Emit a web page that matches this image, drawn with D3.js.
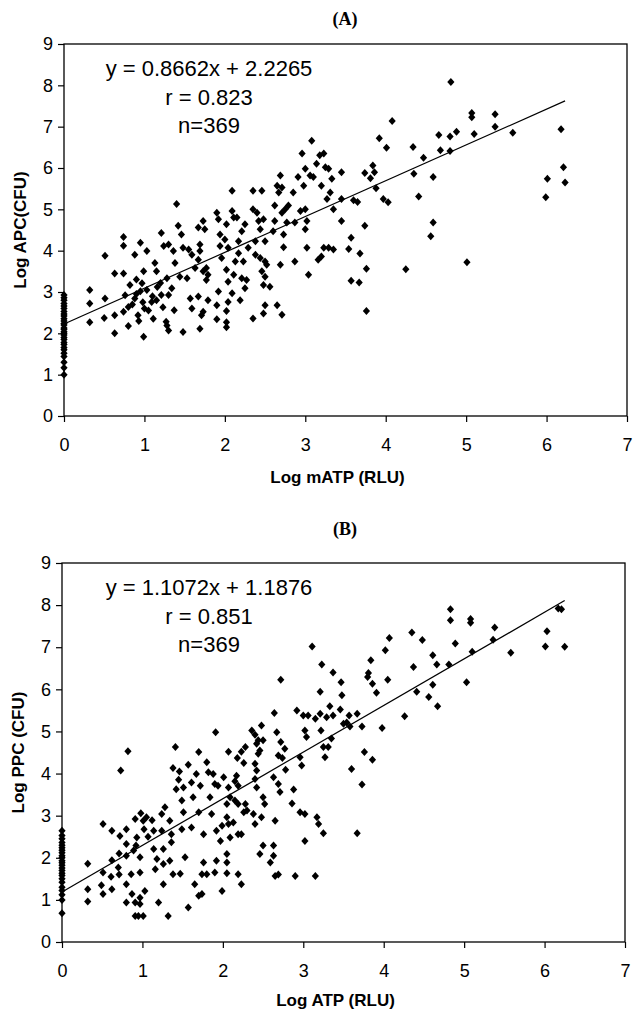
<!DOCTYPE html>
<html>
<head>
<meta charset="utf-8">
<script src="https://cdn.jsdelivr.net/npm/d3@7"></script>
<style>
    body { margin: 0; background: #fff; }
    .tick text { font-family: "Liberation Sans", Arial, sans-serif; font-size: 18px; fill: #000; }
    .tick line { stroke: #000; stroke-width: 1.2px; }
    .frame { fill: none; stroke: #000; stroke-width: 1.3px; }
    .fit { stroke: #000; stroke-width: 1.2px; }
    .pt { fill: #000; }
    .eq { font-family: "Liberation Sans", Arial, sans-serif; font-size: 22px; text-anchor: middle; }
    .axis-title { font-family: "Liberation Sans", Arial, sans-serif; font-size: 17px; font-weight: bold; text-anchor: middle; }
    .panel-title { font-family: "Liberation Serif", "Times New Roman", serif; font-size: 18px; font-weight: bold; text-anchor: middle; }
</style>
</head>
<body>
<svg id="chart" width="633" height="1013"></svg>
<script>
// shared ticks
const xTicks = [0, 1, 2, 3, 4, 5, 6, 7];
const yTicks = [0, 1, 2, 3, 4, 5, 6, 7, 8, 9];

// (A) Log mATP vs Log APC
const apcAtZero = [1.0, 1.17, 1.3, 1.44, 1.52, 1.6, 1.66, 1.73, 1.78, 1.85, 1.9, 1.96, 2.0, 2.04, 2.1,
    2.13, 2.2, 2.24, 2.3, 2.35, 2.42, 2.47, 2.53, 2.6, 2.66, 2.72, 2.8, 2.86, 2.93];
const apcPoints = [
    [0.32,3.05],[0.32,2.72],[0.32,2.27],[0.51,3.88],[0.51,2.84],[0.50,2.37],[0.63,3.45],[0.74,3.45],
    [0.63,2.44],[0.63,2.0],[0.74,4.33],[0.74,4.12],[0.74,2.52],[0.80,2.18],[0.82,3.17],[0.80,2.64],
    [0.88,3.90],[0.88,2.84],[0.95,4.19],[0.92,2.44],[0.99,1.92],[0.99,3.50],[0.97,3.21],[1.03,3.99],
    [1.03,3.05],[1.09,2.76],[1.13,3.70],[1.11,2.35],[1.21,4.43],[1.21,2.93],[1.15,3.50],[1.24,4.11],
    [1.28,3.33],[1.30,4.15],[1.30,2.93],[1.28,2.19],[1.30,2.07],[1.36,3.99],[1.34,3.09],[1.38,3.70],
    [1.40,5.13],[1.42,4.60],[1.46,4.39],[1.48,4.07],[1.48,2.03],[1.44,3.37],[1.53,3.33],[1.55,4.03],
    [1.57,2.84],[1.59,3.90],[1.59,2.60],[1.67,4.56],[1.67,3.78],[1.69,4.15],[1.67,2.89],[1.69,2.11],
    [1.73,4.72],[1.73,3.50],[1.71,2.44],
    [0.85,2.7],[0.9,2.95],[0.95,3.02],[1.0,2.6],[1.05,2.55],[1.1,2.9],[1.16,3.12],[0.76,2.92],
    [0.9,3.3],[1.2,3.22],[1.15,2.8],[0.98,2.75],
    [1.37,2.56],[1.73,2.52],[1.27,2.28],[0.93,2.3],[1.23,2.63],
    [1.75,4.52],[1.69,3.99],[1.63,3.58],[1.77,3.58],[1.79,3.42],[1.77,3.29],[1.79,2.80],[1.90,4.92],
    [1.92,4.76],[1.94,4.39],[1.94,4.11],[1.96,3.82],[1.92,3.01],[1.90,2.68],[1.90,2.34],[2.00,4.27],
    [2.02,4.64],[2.04,4.07],[2.02,3.54],[2.04,3.25],[2.04,2.76],[2.02,2.54],[2.02,2.27],[2.02,2.15],
    [2.09,5.45],[2.09,4.96],[2.11,4.80],[2.11,3.42],[2.09,2.97],[2.15,4.80],[2.17,4.23],[2.17,3.94],
    [2.13,3.74],[2.21,4.47],[2.23,3.74],[2.21,3.33],[2.25,3.09],[2.25,4.64],[2.27,3.29],[2.19,2.80],
    [2.29,4.07],[2.35,5.45],[2.35,5.00],[2.40,4.92],[2.38,4.23],[2.38,3.90],[2.42,4.72],[2.44,4.52],
    [2.46,5.45],[2.44,3.82],[2.46,3.50],[2.48,4.76],[2.50,4.23],[2.48,3.17],[2.50,3.74],[2.50,3.37],
    [2.52,3.66],[2.56,3.13],[2.50,2.68],[2.48,2.48],[2.35,2.36],[2.60,4.47],[2.62,4.72],[2.62,5.09],
    [2.65,5.57],[2.67,5.41],[2.69,5.82],[2.71,4.92],[2.71,5.53],[2.73,4.39],[2.75,5.00],[2.73,4.08],
    [2.69,3.66],[2.65,2.68],[2.71,2.45],[2.77,4.68],[2.79,5.09],[2.85,5.41],[2.87,3.74],[2.91,5.78],
    [2.94,4.96],[2.98,5.57],[3.00,5.98],[3.00,5.00],[3.00,4.52],[3.02,4.07],[3.04,3.42],[3.02,4.72],
    [3.06,5.82],[3.08,6.66],[2.96,6.35],[3.14,6.10],[3.18,6.31],[3.23,6.35],[3.25,6.02],[3.29,5.98],
    [3.20,5.57],[3.23,4.07],[3.20,3.86],[3.16,3.78],[3.29,4.07],[3.35,4.03],[3.33,5.74],[3.31,5.41],
    [3.27,5.25],[3.35,5.00],[3.45,5.90],[3.45,5.25],[3.45,4.72],[3.10,5.78],[2.87,4.68],
    [4.81,8.08],[5.07,7.33],[5.07,7.23],[5.36,7.30],[5.36,7.00],[4.66,6.80],[4.80,6.76],[4.88,6.88],
    [5.10,6.82],[5.58,6.85],[4.68,6.43],[4.80,6.41],[4.47,6.25],[4.34,6.51],[4.35,5.86],[4.59,5.78],
    [4.41,5.31],[4.59,4.68],[4.56,4.35],[5.01,3.72],[4.25,3.55],[4.08,7.14],[3.92,6.72],[4.01,6.49],
    [3.84,6.06],[3.86,5.90],[3.74,5.88],[3.81,5.75],[3.88,5.51],[3.97,5.25],[4.03,5.17],[3.74,4.60],
    [3.76,3.56],[3.68,3.93],[3.76,2.54],[3.67,3.23],[3.57,3.27],[3.54,4.04],[3.57,4.31],[3.60,5.22],
    [3.65,5.18],[6.18,6.94],[6.21,6.02],[6.01,5.74],[6.23,5.65],[5.99,5.29]
];
const apcFit = { slope: 0.8662, intercept: 2.2265 };
const apcLabels = ["y = 0.8662x + 2.2265", "r = 0.823", "n=369"];

// (B) Log ATP vs Log PPC
const ppcAtZero = [0.68, 1.0, 1.12, 1.22, 1.3, 1.42, 1.5, 1.58, 1.63, 1.7, 1.76, 1.82, 1.88, 1.93, 2.0,
    2.05, 2.12, 2.18, 2.24, 2.3, 2.36, 2.45, 2.53, 2.64];
const ppcPoints = [
    [0.32,1.86],[0.32,1.25],[0.32,0.96],[0.51,1.65],[0.51,2.80],[0.49,1.35],[0.51,1.14],[0.62,2.64],
    [0.62,1.94],[0.61,1.55],[0.62,1.25],[0.72,2.52],[0.71,2.10],[0.70,1.77],[0.71,1.60],[0.73,4.07],
    [0.82,4.53],[0.80,2.68],[0.80,2.33],[0.80,2.05],[0.80,1.37],[0.80,0.94],[0.87,1.14],[0.86,1.61],
    [0.89,2.17],[0.91,2.92],[0.93,2.48],[0.92,2.29],[0.91,0.94],[0.91,0.62],[0.95,0.62],[1.01,0.62],
    [0.97,1.05],[0.97,0.90],[0.97,1.65],[0.97,2.01],[0.98,3.06],[1.01,2.88],[1.02,2.68],[1.05,2.96],
    [1.07,2.50],[1.03,1.21],[1.12,2.89],[1.14,2.64],[1.14,2.21],[1.16,1.73],[1.18,1.97],[1.20,0.94],
    [1.24,3.04],[1.24,2.64],[1.26,2.21],[1.26,1.85],[1.26,1.37],[1.28,3.20],[1.34,2.88],[1.36,2.37],
    [1.36,2.56],[1.34,1.93],[1.38,1.61],[1.41,4.63],[1.38,4.13],[1.42,3.63],[1.45,3.85],[1.46,4.05],
    [1.51,3.67],[1.49,3.36],[1.51,3.08],[1.49,2.68],[1.47,1.62],[1.53,2.01],[1.57,4.21],[1.57,0.82],
    [1.61,3.79],[1.61,2.72],[1.63,3.44],[1.65,1.37],[1.67,3.99],[1.70,4.51],[1.70,3.08],[1.70,1.10],
    [1.72,3.71],[1.74,1.61],[1.76,2.56],[1.76,1.89],[1.32,0.62],[1.74,1.14],
    [3.11,7.02],[3.23,6.59],[3.37,6.40],[3.47,6.17],[3.48,5.86],[3.21,5.94],[2.72,6.23],[2.64,5.44],
    [1.91,4.98],[1.80,4.27],[2.07,4.52],[2.18,4.37],[2.23,4.52],[2.28,4.63],[2.26,4.25],[2.36,5.02],
    [2.40,4.92],[2.42,4.71],[2.44,4.79],[2.48,5.14],[2.50,4.79],[2.46,4.55],[2.44,4.47],[2.40,4.23],
    [2.42,4.07],[2.67,4.98],[2.72,4.75],[2.77,4.59],[2.69,4.43],[2.74,4.37],[2.63,3.91],[2.78,4.09],
    [2.69,3.75],[2.71,3.56],[2.88,3.62],[2.86,3.29],[2.96,3.08],[3.02,3.04],[3.17,2.96],[3.19,2.80],
    [3.25,2.58],[3.02,2.40],[2.92,5.50],[3.00,5.38],[3.06,5.38],[3.15,5.30],[3.21,5.42],[3.29,5.34],
    [3.33,5.60],[3.37,5.38],[3.46,5.52],[3.50,5.18],[3.02,5.02],[3.04,4.87],[3.22,5.02],[2.96,4.39],
    [2.98,4.19],[3.25,4.63],[3.31,4.63],[3.27,4.39],[3.35,4.83],[1.88,3.99],[2.01,3.91],[2.07,3.67],
    [2.17,3.95],[2.19,3.71],[1.90,3.75],[1.84,3.44],[1.94,3.71],[2.09,3.44],[2.15,3.36],[2.19,3.28],
    [2.28,3.28],[2.30,3.12],[2.26,3.08],[2.05,3.28],[2.05,2.96],[1.99,2.76],[2.07,2.80],[2.13,2.84],
    [2.19,2.56],[2.23,2.56],[1.97,2.40],[2.09,2.48],[2.40,3.87],[2.42,3.67],[2.50,3.44],[2.52,3.28],
    [2.38,3.04],[2.40,2.80],[2.48,2.96],[2.65,2.88],[1.86,3.04],[1.92,2.64],[2.46,2.09],[2.50,2.29],
    [2.63,2.29],[2.63,2.05],[2.59,1.89],[2.65,1.57],[2.69,1.60],[2.90,1.57],[3.15,1.57],[2.05,2.09],
    [2.05,1.89],[1.92,1.93],[1.80,1.61],[1.90,1.65],[2.05,1.63],[2.19,1.61],[2.23,1.37],[1.99,1.21],
    [1.82,4.03],[2.15,3.82],
    [4.83,7.90],[4.83,7.64],[5.08,7.67],[5.08,7.58],[5.38,7.47],[5.36,7.18],[4.89,7.09],[5.10,6.89],
    [5.58,6.87],[5.03,6.17],[4.61,6.81],[4.66,6.59],[4.81,6.59],[4.37,6.53],[4.35,7.35],[4.48,7.17],
    [4.07,7.22],[4.02,6.93],[4.05,6.23],[3.84,6.69],[3.81,6.39],[3.86,6.13],[3.91,5.92],[3.80,6.29],
    [4.41,5.94],[4.56,5.82],[4.67,5.60],[4.61,6.11],[4.26,5.36],[3.98,5.08],[3.73,5.12],[3.67,5.42],
    [3.57,5.38],[3.54,5.21],[3.58,5.12],[3.76,4.51],[3.86,4.33],[3.60,4.11],[3.73,3.74],[3.67,2.58],
    [6.17,7.92],[6.21,7.90],[6.03,7.38],[6.01,7.02],[6.25,7.01]
];
const ppcFit = { slope: 1.1072, intercept: 1.1876 };
const ppcLabels = ["y = 1.1072x + 1.1876", "r = 0.851", "n=369"];

const svg = d3.select("#chart");
svg.append("rect").attr("width", 633).attr("height", 1013).attr("fill", "#fff");

const diamond = "M0,-4L3.6,0L0,4L-3.6,0Z";

function drawPanel(cfg, zeroYs, points, fit, labels) {
    const x = d3.scaleLinear().domain([0, 7]).range([cfg.left, cfg.right]);
    const y = d3.scaleLinear().domain([0, 9]).range([cfg.bottom, cfg.top]);
    const g = svg.append("g");

    g.append("text").attr("class", "panel-title")
        .attr("x", 345).attr("y", cfg.titleY).text(cfg.title);

    const xAxis = g.append("g")
        .attr("transform", `translate(0,${cfg.bottom})`)
        .call(d3.axisBottom(x).tickValues(xTicks).tickFormat(d3.format("d")).tickSize(6).tickPadding(16));
    xAxis.select(".domain").remove();

    const yAxis = g.append("g")
        .attr("transform", `translate(${cfg.left},0)`)
        .call(d3.axisLeft(y).tickValues(yTicks).tickFormat(d3.format("d")).tickSize(6).tickPadding(5));
    yAxis.select(".domain").remove();

    g.append("rect").attr("class", "frame")
        .attr("x", cfg.left).attr("y", cfg.top)
        .attr("width", cfg.right - cfg.left).attr("height", cfg.bottom - cfg.top);

    const all = zeroYs.map(v => [0, v]).concat(points);

    g.append("g").selectAll("path")
        .data(all)
        .join("path")
        .attr("class", "pt")
        .attr("d", diamond)
        .attr("transform", d => `translate(${x(d[0])},${y(d[1])})`);

    const xMax = d3.max(all, d => d[0]);
    g.append("line").attr("class", "fit")
        .attr("x1", x(0)).attr("y1", y(fit.intercept))
        .attr("x2", x(xMax)).attr("y2", y(fit.slope * xMax + fit.intercept));

    g.append("g").selectAll("text")
        .data(labels)
        .join("text")
        .attr("class", "eq")
        .attr("x", 209)
        .attr("y", (d, i) => cfg.top + 32 + i * 28.5)
        .text(d => d);

    g.append("text").attr("class", "axis-title")
        .attr("x", (cfg.left + cfg.right) / 2 - 8)
        .attr("y", cfg.xTitleY)
        .text(cfg.xTitle);

    g.append("text").attr("class", "axis-title")
        .attr("transform", `translate(${cfg.yTitleX},${(cfg.top + cfg.bottom) / 2}) rotate(-90)`)
        .attr("dy", "0.35em")
        .text(cfg.yTitle);
}

drawPanel({ title: "(A)", titleY: 25, left: 64, right: 627, top: 44, bottom: 416,
    xTitle: "Log mATP (RLU)", xTitleY: 483, yTitle: "Log APC(CFU)", yTitleX: 20 },
    apcAtZero, apcPoints, apcFit, apcLabels);

drawPanel({ title: "(B)", titleY: 535, left: 62, right: 625, top: 563, bottom: 942,
    xTitle: "Log ATP (RLU)", xTitleY: 1006, yTitle: "Log PPC (CFU)", yTitleX: 18 },
    ppcAtZero, ppcPoints, ppcFit, ppcLabels);
</script>
</body>
</html>
